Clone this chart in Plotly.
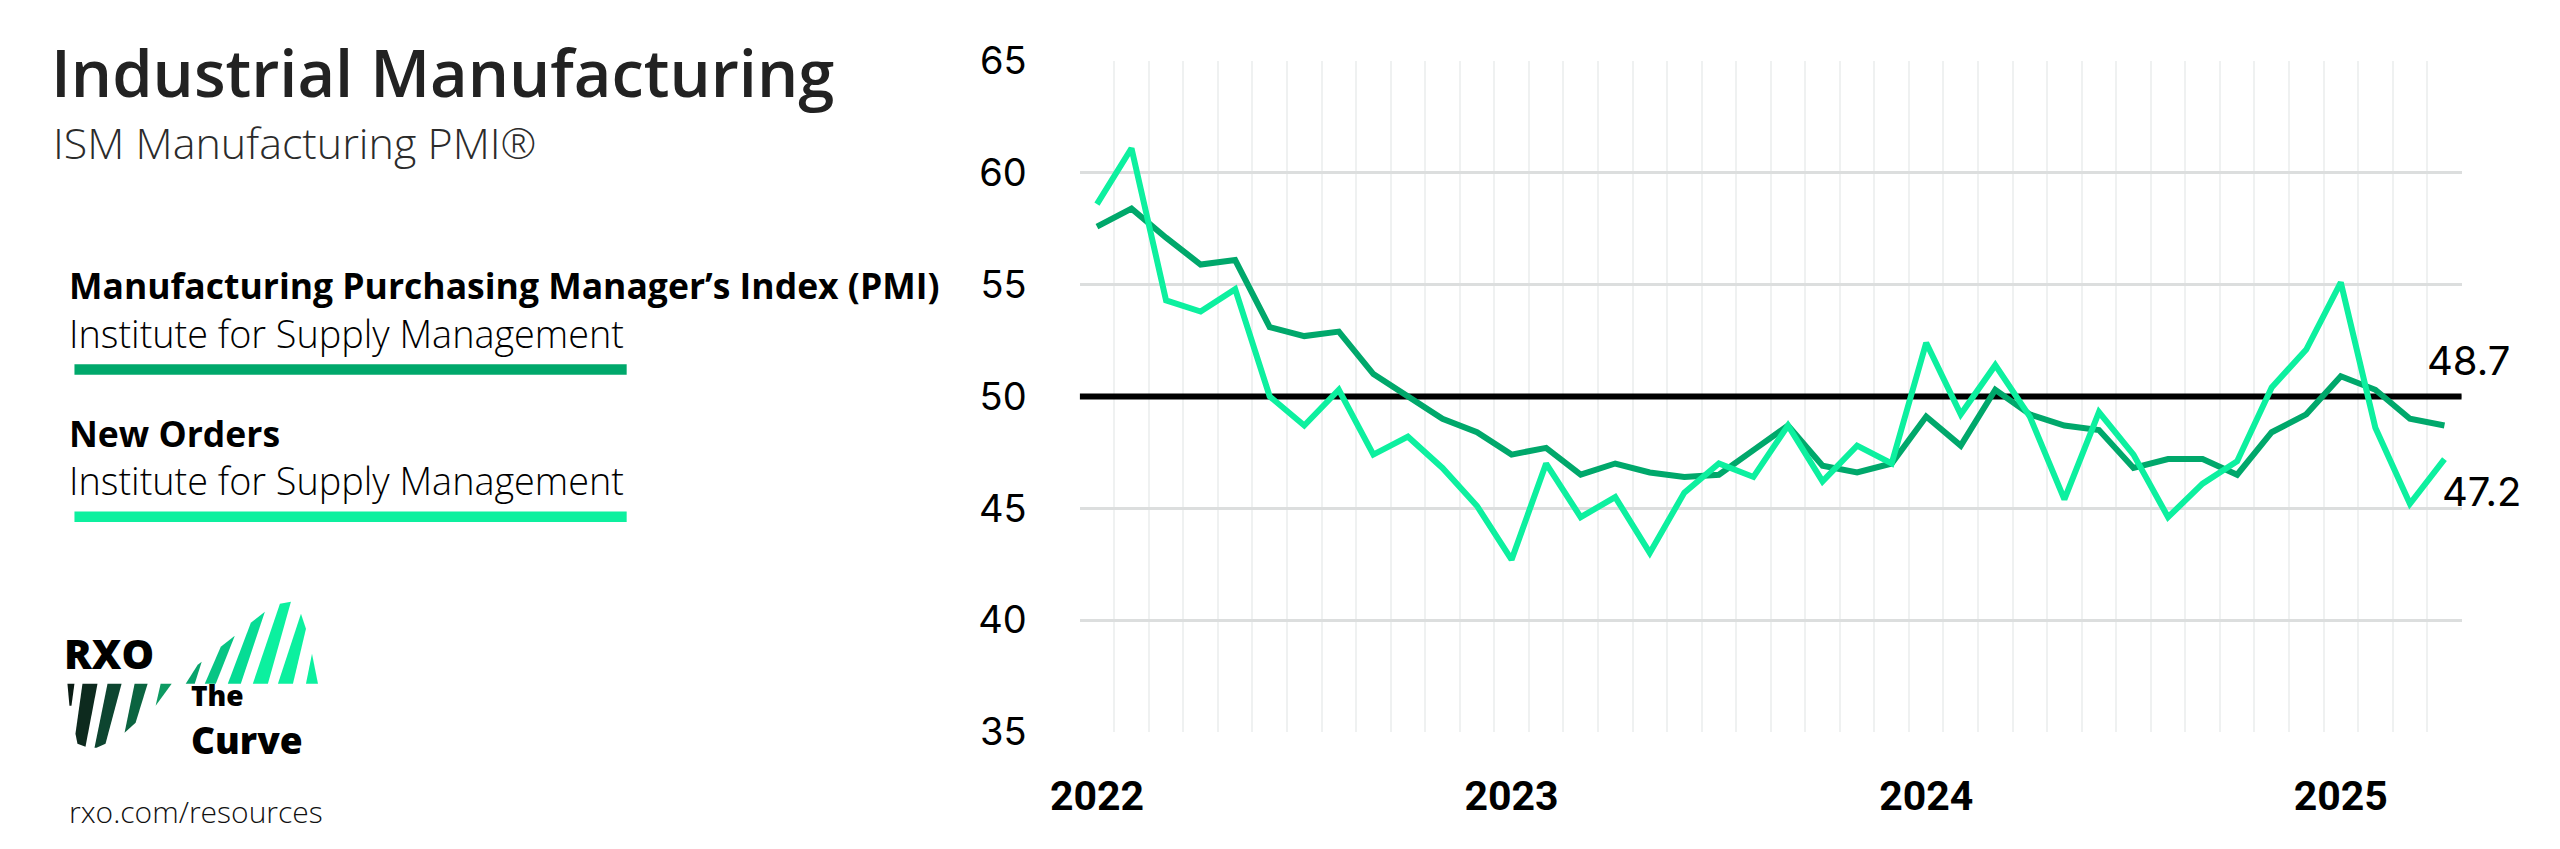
import plotly.graph_objects as go

# ---------------- data ----------------
months = [
    "Jan 2022", "Feb 2022", "Mar 2022", "Apr 2022", "May 2022", "Jun 2022",
    "Jul 2022", "Aug 2022", "Sep 2022", "Oct 2022", "Nov 2022", "Dec 2022",
    "Jan 2023", "Feb 2023", "Mar 2023", "Apr 2023", "May 2023", "Jun 2023",
    "Jul 2023", "Aug 2023", "Sep 2023", "Oct 2023", "Nov 2023", "Dec 2023",
    "Jan 2024", "Feb 2024", "Mar 2024", "Apr 2024", "May 2024", "Jun 2024",
    "Jul 2024", "Aug 2024", "Sep 2024", "Oct 2024", "Nov 2024", "Dec 2024",
    "Jan 2025", "Feb 2025", "Mar 2025", "Apr 2025",
]
pmi = [
    57.6, 58.4, 57.1, 55.9, 56.1, 53.1, 52.7, 52.9, 51.0, 50.0, 49.0, 48.4,
    47.4, 47.7, 46.5, 47.0, 46.6, 46.4, 46.5, 47.6, 48.7, 46.9, 46.6, 47.0,
    49.1, 47.8, 50.3, 49.2, 48.7, 48.5, 46.8, 47.2, 47.2, 46.5, 48.4, 49.2,
    50.9, 50.3, 49.0, 48.7,
]
new_orders = [
    58.6, 61.1, 54.3, 53.8, 54.8, 50.0, 48.7, 50.3, 47.4, 48.2, 46.8, 45.1,
    42.7, 47.0, 44.6, 45.5, 43.0, 45.7, 47.0, 46.4, 48.7, 46.2, 47.8, 47.0,
    52.4, 49.2, 51.4, 49.1, 45.4, 49.3, 47.4, 44.6, 46.1, 47.1, 50.4, 52.1,
    55.1, 48.6, 45.2, 47.2,
]
year_ticks = ["Jan 2022", "Jan 2023", "Jan 2024", "Jan 2025"]
year_labels = ["2022", "2023", "2024", "2025"]
threshold = 50
y_range = [35, 65]

DARK = "#00a86b"
BRIGHT = "#0df09f"

W, H = 2560, 849
x_idx = list(range(len(months)))
x_range = [-0.5, len(months) - 0.5]


# picture-space calibration (target pixel -> layout pixel)
def fx(X):
    return 1.0141 * X - 33.1


def fy(Y):
    return 1.0579 * Y - 27.1


def px(X):
    return fx(X) / W


def py(Y):
    return 1 - fy(Y) / H


fig = go.Figure()

# 50 reference line (below data)
fig.add_trace(go.Scatter(x=x_range, y=[threshold, threshold], mode="lines",
                         line=dict(color="#000000", width=6), hoverinfo="skip"))
fig.add_trace(go.Scatter(x=x_idx, y=pmi, mode="lines", name="PMI",
                         line=dict(color=DARK, width=6)))
fig.add_trace(go.Scatter(x=x_idx, y=new_orders, mode="lines", name="New Orders",
                         line=dict(color=BRIGHT, width=6)))

fig.update_layout(
    width=W, height=H,
    autosize=False,
    margin=dict(l=0, r=0, t=0, b=0, pad=0),
    paper_bgcolor="white", plot_bgcolor="white",
    showlegend=False,
    xaxis=dict(
        domain=[px(1080), px(2459)],
        range=x_range,
        tickmode="array",
        tickvals=[months.index(m) for m in year_ticks],
        ticktext=year_labels,
        tickfont=dict(family="Roboto", size=41, color="#000000", weight=700),
        showgrid=False, zeroline=False, showline=False,
        ticks="", ticklabelstandoff=36,
        minor=dict(tickmode="linear", tick0=-0.5, dtick=1, showgrid=True,
                   gridcolor="#eff1f1", gridwidth=1.5, ticks=""),
    ),
    yaxis=dict(
        domain=[py(733), py(62.7)],
        range=y_range,
        tickmode="linear", tick0=35, dtick=5,
        tickfont=dict(family="Inter", size=38, color="#000000"),
        showgrid=True, gridcolor="#dcdede", gridwidth=2.5,
        zeroline=False, showline=False,
        ticks="", ticklabelstandoff=52,
    ),
)

# end-value labels
fig.add_annotation(x=x_idx[-1], y=pmi[-1], xref="x", yref="y",
                   text=f"{pmi[-1]:.1f}", showarrow=False,
                   xanchor="left", yanchor="middle", xshift=-19, yshift=65,
                   font=dict(family="Inter", size=40, color="#000000"))
fig.add_annotation(x=x_idx[-1], y=new_orders[-1], xref="x", yref="y",
                   text=f"{new_orders[-1]:.1f}", showarrow=False,
                   xanchor="left", yanchor="middle", xshift=-4, yshift=-32,
                   font=dict(family="Inter", size=40, color="#000000"))


def text_ann(text, x, y, size, weight=400, color="#111111", family="Open Sans"):
    fig.add_annotation(x=px(x), y=py(y), xref="paper", yref="paper", text=text,
                       showarrow=False, xanchor="left", yanchor="middle",
                       font=dict(family=family, size=size, color=color, weight=weight))


# left panel texts
text_ann("Industrial Manufacturing", 52, 74, 65, 600, "#222222")
text_ann("ISM Manufacturing PMI®", 54, 144, 43, 300, "#2b2b2b")
text_ann("Manufacturing Purchasing Manager’s Index (PMI)", 70, 286, 35.5, 700, "#000000")
text_ann("Institute for Supply Management", 70, 335, 37.8, 300, "#000000")
text_ann("New Orders", 70, 434, 35.5, 700, "#000000")
text_ann("Institute for Supply Management", 70, 482, 37.8, 300, "#000000")
text_ann("rxo.com/resources", 70, 813, 30, 300, "#111111")
text_ann("RXO", 65, 654, 41, 800, "#000000")
fig.add_annotation(
    x=px(191), y=py(722), xref="paper", yref="paper", showarrow=False,
    xanchor="left", yanchor="middle", align="left",
    text="<span style='font-size:28px'>The</span><br>Curve",
    font=dict(family="Open Sans", size=37, color="#000000", weight=800),
)

# legend colour bars
for yb, col in [(371, DARK), (518, BRIGHT)]:
    fig.add_shape(type="line", xref="paper", yref="paper",
                  x0=px(77), x1=px(628), y0=py(yb), y1=py(yb),
                  line=dict(color=col, width=10.5))


# logo stripes
def poly(points, color):
    path = "M " + " L ".join(f"{px(a):.5f},{py(b):.5f}" for a, b in points) + " Z"
    fig.add_shape(type="path", xref="paper", yref="paper", path=path,
                  fillcolor=color, line=dict(width=0))


poly([(70, 685), (77, 685), (74, 707), (72, 707)], "#0b1c14")
poly([(85, 685), (100, 685), (88, 748), (80, 745), (78, 735)], "#0d2a1e")
poly([(110, 685), (124, 685), (108, 745), (99, 749), (97, 749)], "#0d4530")
poly([(137, 685), (150, 685), (138, 724), (127, 734)], "#0b6440")
poly([(163, 685), (174, 685), (158, 707)], "#0e9a62")

poly([(188, 685), (197, 685), (204, 663), (200, 666)], "#08a46c")
poly([(207, 685), (218, 685), (237, 637), (223, 648)], "#07c584")
poly([(230, 685), (243, 685), (267, 613), (253, 624)], "#06dc95")
poly([(255, 685), (270, 685), (293, 603), (282, 605)], "#0cf09f")
poly([(280, 685), (295, 685), (308, 630), (303, 615)], "#0cf09f")
poly([(308, 685), (320, 685), (314, 655)], "#0cf09f")

fig.write_html(
    "out.html",
    config={"displayModeBar": False},
    post_script="document.body.style.margin='0';document.body.style.overflow='hidden';",
)
